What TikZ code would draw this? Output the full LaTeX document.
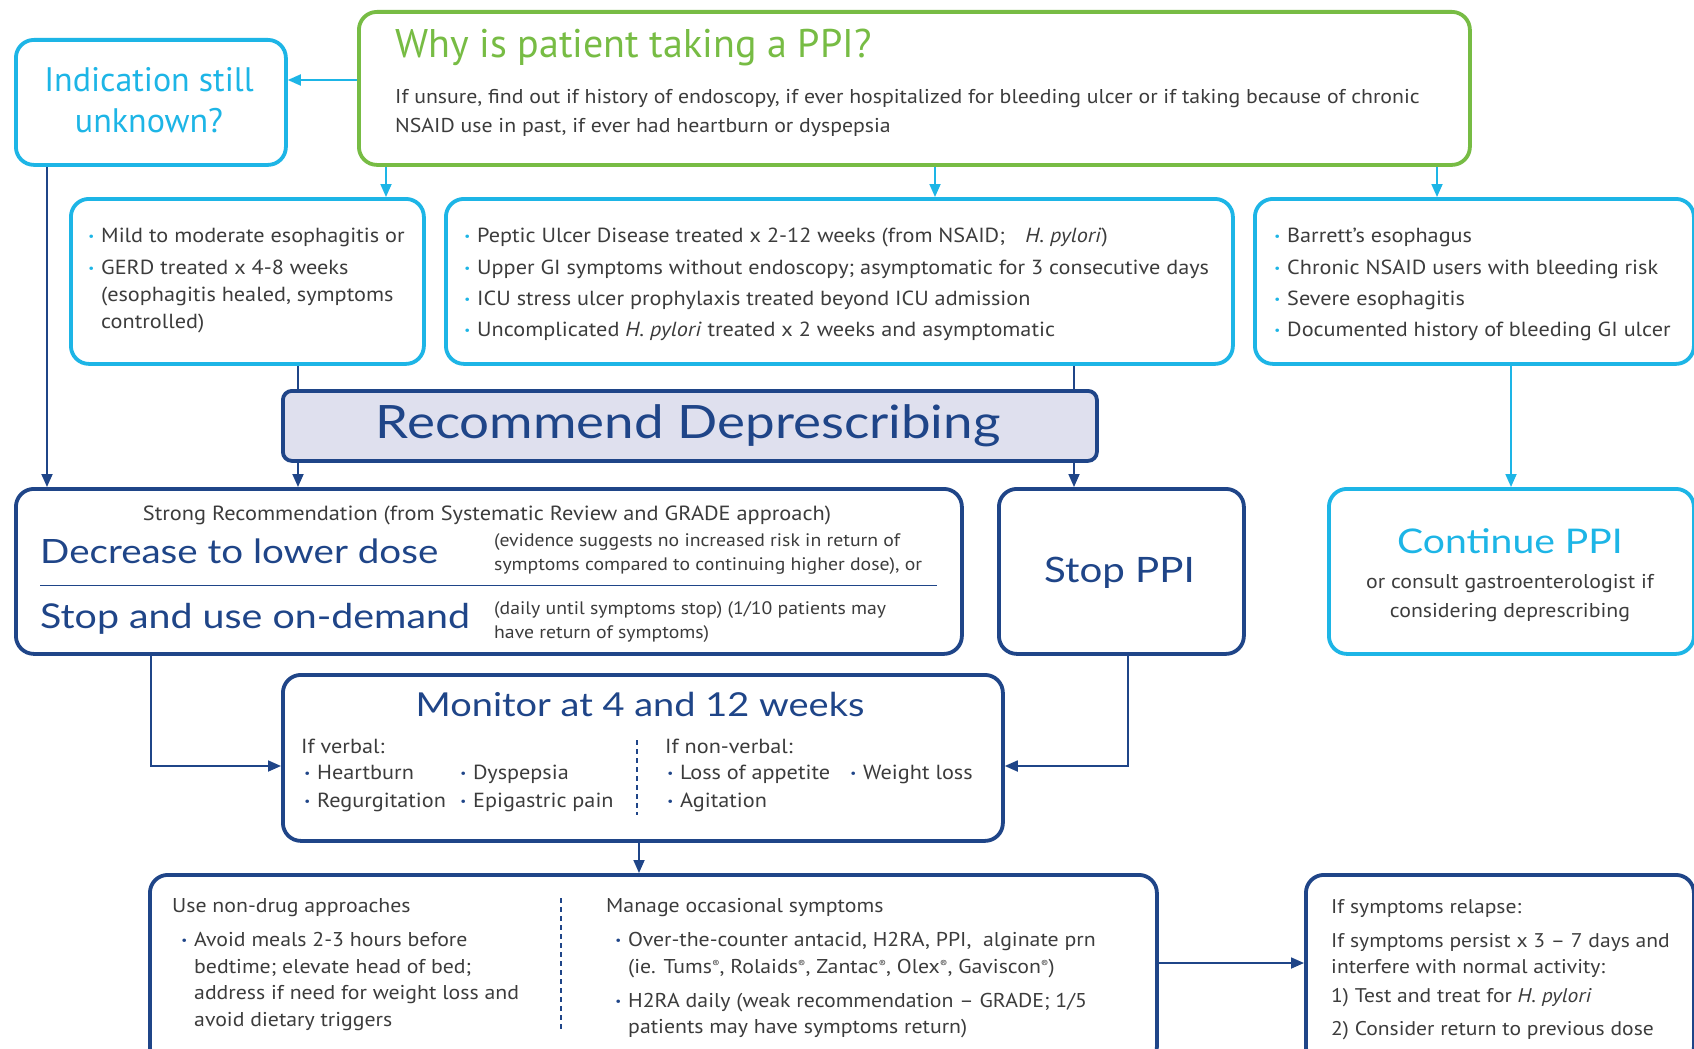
\documentclass[tikz,border=0pt]{standalone}
\usepackage{fontspec}
\setmainfont[FakeStretch=1.09]{PT Sans}
\newfontfamily\tfont{PT Sans}
\newfontfamily\hfont[FakeStretch=1.15]{Lato}
\usetikzlibrary{arrows.meta}
\definecolor{cgreen}{HTML}{77BC44}
\definecolor{ccyan}{HTML}{1DB5E6}
\definecolor{cdark}{HTML}{1F4588}
\definecolor{ctext}{HTML}{3C3C3C}
\definecolor{clav}{HTML}{DFE0EE}
\newcommand\bc{\llap{\textcolor{ccyan}{\fontsize{12}{12}\selectfont\raisebox{2pt}{•}}\hspace{7pt}}}
\newcommand\bd{\llap{\textcolor{cdark}{\fontsize{12}{12}\selectfont\raisebox{2pt}{•}}\hspace{7pt}}}
\newcommand\reg{{\fontsize{10}{10}\selectfont\raisebox{6pt}{®}}}
\begin{document}
\begin{tikzpicture}[x=1pt,y=-1pt,
  box/.style={rounded corners=18pt, line width=3.8pt, inner sep=0pt, anchor=north west},
  cbox/.style={box, draw=ccyan},
  gbox/.style={box, draw=cgreen},
  dbox/.style={box, draw=cdark},
  txt/.style={inner sep=0pt, anchor=base west, font=\fontsize{20}{24}\selectfont, text=ctext},
  ctxt/.style={txt, anchor=base},
  small/.style={font=\fontsize{18.1}{22}\selectfont},
  btxt/.style={txt, font=\fontsize{20.4}{24}\selectfont},
  mtxt/.style={txt, font=\fontsize{20.4}{24}\selectfont},
  rtxt/.style={txt, font=\fontsize{19.8}{24}\selectfont},
  carrow/.style={draw=ccyan, line width=1.8pt, -{Triangle[length=13pt,width=11pt]}},
  darrow/.style={draw=cdark, line width=1.8pt, -{Triangle[length=13pt,width=11pt]}},
  dline/.style={draw=cdark, line width=1.5pt, dash pattern=on 5pt off 4pt}]
\useasboundingbox (0,0) rectangle (1694,1049);
\clip (0,0) rectangle (1694,1049);
\fill[white] (0,0) rectangle (1694,1049);

% boxes
\node[cbox, minimum width=270pt, minimum height=125pt] (ind) at (14,38) {};
\node[gbox, minimum width=1111pt, minimum height=153pt] (why) at (357,10) {};
\node[cbox, minimum width=353pt, minimum height=165pt] (boxA) at (69,197) {};
\node[cbox, minimum width=787pt, minimum height=165pt] (boxB) at (444,197) {};
\node[cbox, minimum width=439pt, minimum height=165pt] (boxC) at (1253,197) {};
\node[dbox, minimum width=946pt, minimum height=165pt] (dec) at (14,487) {};
\node[dbox, minimum width=245pt, minimum height=165pt] (stop) at (997,487) {};
\node[cbox, minimum width=365pt, minimum height=165pt] (cont) at (1327,487) {};
\node[dbox, minimum width=720pt, minimum height=166pt] (mon) at (281,673) {};
\node[dbox, minimum width=1007pt, minimum height=190pt] (nd) at (148,873) {};
\node[dbox, minimum width=388pt, minimum height=190pt] (rel) at (1304,873) {};

% helper coordinates
\coordinate (ya) at (0,80);
\coordinate (x1) at (386,0);
\coordinate (x2) at (935,0);
\coordinate (x3) at (1437,0);
\coordinate (xl) at (47,0);
\coordinate (xr1) at (298,0);
\coordinate (xr2) at (1074,0);
\coordinate (xc) at (1511,0);
\coordinate (xd) at (151,0);
\coordinate (xs) at (1128,0);
\coordinate (ym) at (0,766);
\coordinate (xm) at (639,0);
\coordinate (yn) at (0,963);

% connectors
\draw[carrow] (why.west |- ya) -- (ind.east |- ya);
\draw[carrow] (x1 |- why.south) -- (x1 |- boxA.north);
\draw[carrow] (x2 |- why.south) -- (x2 |- boxB.north);
\draw[carrow] (x3 |- why.south) -- (x3 |- boxC.north);
\draw[darrow] (xl |- ind.south) -- (xl |- dec.north);
\draw[darrow] (xr1 |- boxA.south) -- (xr1 |- dec.north);
\draw[darrow] (xr2 |- boxB.south) -- (xr2 |- stop.north);
\draw[carrow] (xc |- boxC.south) -- (xc |- cont.north);
\draw[darrow] (xd |- dec.south) |- (mon.west |- ym);
\draw[darrow] (xs |- stop.south) |- (mon.east |- ym);
\draw[darrow] (xm |- mon.south) -- (xm |- nd.north);
\draw[darrow] (nd.east |- yn) -- (rel.west |- yn);

% recommend box (drawn over the lines)
\node[box, draw=cdark, fill=clav, rounded corners=9pt, minimum width=814pt, minimum height=70pt] (rec) at (281,389) {};
\node[ctxt, font=\hfont\fontsize{46}{50}\selectfont, text=cdark] (recT) at (688,438) {Recommend Deprescribing};

% why box text
\node[txt, font=\tfont\fontsize{40}{48}\selectfont, text=cgreen] (whyT) at (395,58) {Why is patient taking a PPI?};
\node[txt] (why1) at (395,103) {If unsure, find out if history of endoscopy, if ever hospitalized for bleeding ulcer or if taking because of chronic};
\node[txt] (why2) at (395,132) {NSAID use in past, if ever had heartburn or dyspepsia};

% indication
\node[ctxt, font=\tfont\fontsize{34}{40}\selectfont, text=ccyan] (ind1) at (149,92) {Indication still};
\node[ctxt, font=\tfont\fontsize{34}{40}\selectfont, text=ccyan] (ind2) at (149,132) {unknown?};

% box A
\node[btxt] (a1) at (101,242) {\bc Mild to moderate esophagitis or};
\node[btxt] (a2) at (101,274) {\bc GERD treated x 4-8 weeks};
\node[btxt] (a3) at (101,301) {(esophagitis healed, symptoms};
\node[btxt] (a4) at (101,328) {controlled)};

% box B
\node[btxt] (b1) at (477,242) {\bc Peptic Ulcer Disease treated x 2-12 weeks (from NSAID;\quad\textit{H. pylori})};
\node[btxt] (b2) at (477,274) {\bc Upper GI symptoms without endoscopy; asymptomatic for 3 consecutive days};
\node[btxt] (b3) at (477,305) {\bc ICU stress ulcer prophylaxis treated beyond ICU admission};
\node[btxt] (b4) at (477,336) {\bc Uncomplicated \textit{H. pylori} treated x 2 weeks and asymptomatic};

% box C
\node[btxt] (c1) at (1287,242) {\bc Barrett’s esophagus};
\node[btxt] (c2) at (1287,274) {\bc Chronic NSAID users with bleeding risk};
\node[btxt] (c3) at (1287,305) {\bc Severe esophagitis};
\node[btxt] (c4) at (1287,336) {\bc Documented history of bleeding GI ulcer};

% decrease box
\node[ctxt, font=\fontsize{20.5}{24}\selectfont] (d0) at (487,520) {Strong Recommendation (from Systematic Review and GRADE approach)};
\node[txt, font=\hfont\fontsize{33.5}{40}\selectfont, text=cdark] (d1) at (40,563) {Decrease to lower dose};
\node[txt, small] (d1a) at (494,546) {(evidence suggests no increased risk in return of};
\node[txt, small] (d1b) at (494,570) {symptoms compared to continuing higher dose), or};
\draw[cdark, line width=1pt] (40,585) -- (937,585);
\node[txt, font=\hfont\fontsize{34.2}{40}\selectfont, text=cdark] (d2) at (40,628) {Stop and use on-demand};
\node[txt, small] (d2a) at (494,614) {(daily until symptoms stop) (1/10 patients may};
\node[txt, small] (d2b) at (494,638) {have return of symptoms)};

% stop / continue
\node[ctxt, font=\hfont\fontsize{35}{44}\selectfont, text=cdark] (stopT) at (1119.5,582) {Stop PPI};
\node[ctxt, font=\hfont\fontsize{34}{44}\selectfont, text=ccyan] (contT) at (1510,553) {Continue PPI};
\node[ctxt] (cont1) at (1510,588) {or consult gastroenterologist if};
\node[ctxt] (cont2) at (1510,617) {considering deprescribing};

% monitor
\node[ctxt, font=\hfont\fontsize{33}{42}\selectfont, text=cdark] (monT) at (640,716) {Monitor at 4 and 12 weeks};
\node[mtxt] (m0) at (301,753) {If verbal:};
\node[mtxt] (m1) at (317,779) {\bd Heartburn};
\node[mtxt] (m2) at (317,807) {\bd Regurgitation};
\node[mtxt] (m3) at (473,779) {\bd Dyspepsia};
\node[mtxt] (m4) at (473,807) {\bd Epigastric pain};
\draw[dline] (637,740) -- (637,815);
\node[mtxt] (n0) at (665,753) {If non-verbal:};
\node[mtxt] (n1) at (680,779) {\bd Loss of appetite};
\node[mtxt] (n2) at (863,779) {\bd Weight loss};
\node[mtxt] (n3) at (680,807) {\bd Agitation};

% non-drug box
\node[txt] (p0) at (172,912) {Use non-drug approaches};
\node[txt] (p1) at (194,946) {\bd Avoid meals 2-3 hours before};
\node[txt] (p2) at (194,973) {bedtime; elevate head of bed;};
\node[txt] (p3) at (194,999) {address if need for weight loss and};
\node[txt] (p4) at (194,1026) {avoid dietary triggers};
\draw[dline] (561,898) -- (561,1030);
\node[txt] (q0) at (606,912) {Manage occasional symptoms};
\node[txt] (q1) at (628,946) {\bd Over-the-counter antacid, H2RA, PPI,\ \ alginate prn};
\node[txt] (q2) at (628,973) {(ie. Tums\reg, Rolaids\reg, Zantac\reg, Olex\reg, Gaviscon\reg)};
\node[txt] (q3) at (628,1007) {\bd H2RA daily (weak recommendation – GRADE; 1/5};
\node[txt] (q4) at (628,1033) {patients may have symptoms return)};

% relapse box
\node[rtxt] (r0) at (1331,913) {If symptoms relapse:};
\node[rtxt] (r1) at (1331,947) {If symptoms persist x 3 – 7 days and};
\node[rtxt] (r2) at (1331,973) {interfere with normal activity:};
\node[rtxt] (r3) at (1331,1002) {1) Test and treat for \textit{H. pylori}};
\node[rtxt] (r4) at (1331,1035) {2) Consider return to previous dose};
\end{tikzpicture}
\end{document}
